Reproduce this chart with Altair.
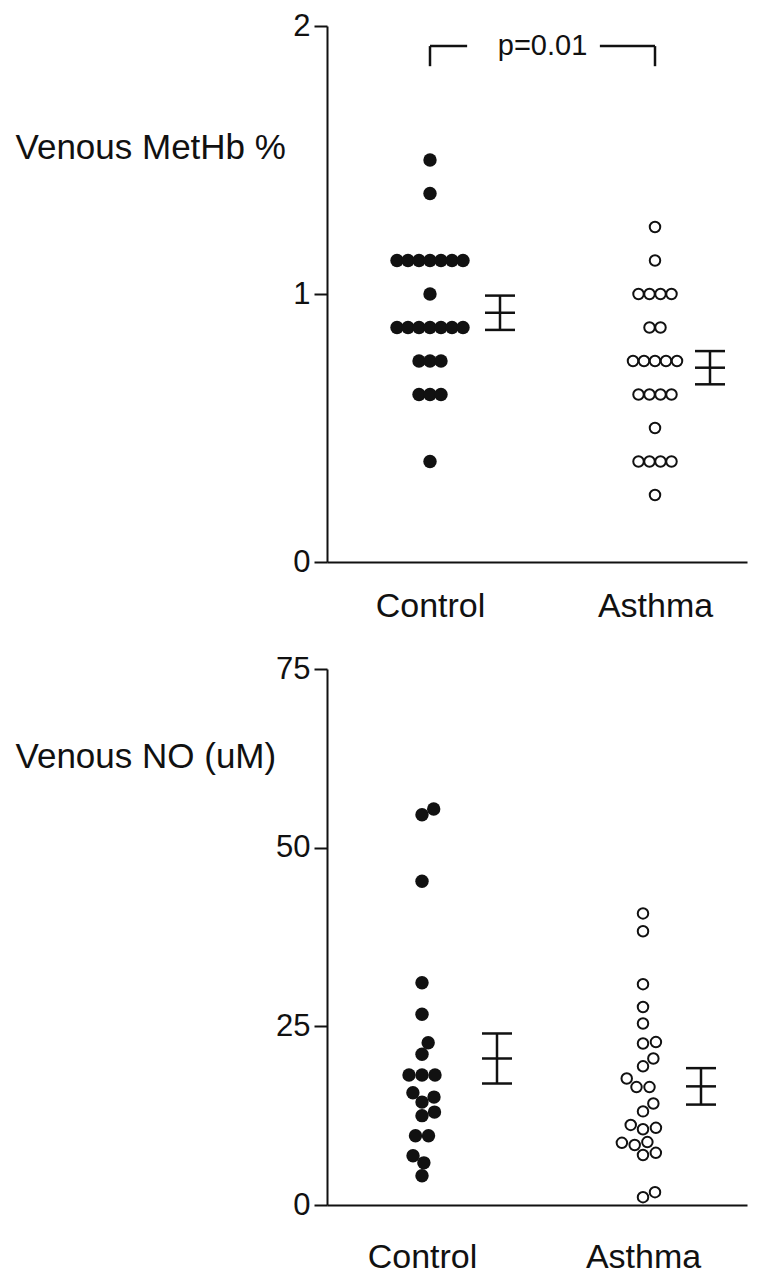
import altair as alt
import numpy as np
import pandas as pd

FONT = "Liberation Sans"
INK = "#111111"

groups = ["Control", "Asthma"]

# ---- Panel 1: Venous MetHb % ----
methb_control = [1.5, 1.375,
                 1.125, 1.125, 1.125, 1.125, 1.125, 1.125, 1.125,
                 1.0,
                 0.875, 0.875, 0.875, 0.875, 0.875, 0.875, 0.875,
                 0.75, 0.75, 0.75,
                 0.625, 0.625, 0.625,
                 0.375]
methb_asthma = [1.25, 1.125,
                1.0, 1.0, 1.0, 1.0,
                0.875, 0.875,
                0.75, 0.75, 0.75, 0.75, 0.75,
                0.625, 0.625, 0.625, 0.625,
                0.5,
                0.375, 0.375, 0.375, 0.375,
                0.25]
methb_mean = [0.93, 0.725]
methb_sem = [0.064, 0.062]
methb_ticks = [0, 1, 2]
p_label = "p=0.01"
bracket_level = [1.925, 1.85]      # top of bracket, bottom of its legs
bracket_inner = [1.165, 1.755]     # where the bracket lines stop around the label

# ---- Panel 2: Venous NO (uM) ----
no_control = [55.4, 54.6, 45.3, 31.1, 26.7, 22.7, 21.1,
              18.2, 18.2, 18.2, 15.7, 15.1, 14.4, 13.0, 12.5,
              9.7, 9.7, 6.9, 5.9, 4.1]
no_asthma = [40.8, 38.3, 30.9, 27.7, 25.4, 22.8, 22.6, 20.5, 19.4,
             17.7, 16.5, 16.5, 14.2, 13.1, 11.2, 10.8, 10.6,
             8.8, 8.7, 8.4, 7.3, 7.0, 1.8, 1.1]
no_mean = [20.5, 16.6]
no_sem = [3.5, 2.55]
no_ticks = [0, 25, 50, 75]


def swarm(vals, ppu_y, d):
    """Horizontal pixel offsets so dots do not stack (tied values form centered rows)."""
    vals = np.asarray(vals, float)
    off = np.zeros(len(vals))
    placed = []
    for v in sorted(set(vals.tolist())):
        idx = [i for i in range(len(vals)) if vals[i] == v]
        y = v * ppu_y
        k = len(idx)
        if k > 1:
            xs = [(j - (k - 1) / 2) * d for j in range(k)]
        else:
            cands = [0.0]
            for py, px in placed:
                dy = abs(py - y)
                if dy < d:
                    dx = float(np.sqrt(d * d - dy * dy))
                    cands += [px + dx, px - dx]
            cands.sort(key=abs)
            xs = [0.0]
            for c in cands:
                if all((c - px) ** 2 + (y - py) ** 2 >= d * d - 1e-6 for py, px in placed):
                    xs = [c]
                    break
        for i, x in zip(idx, xs):
            off[i] = x
            placed.append((y, x))
    return off


def panel(ctrl, asth, mean, sem, ticks, ytitle, height, c1, c2, d, title_y,
          bar_off, x_pad, bracket=None):
    W = 420
    ymax = ticks[-1]
    ppu_y = height / ymax
    ppu_x = c2 - c1
    xdom = [1 - c1 / ppu_x, 1 + (W - c1) / ppu_x]
    cap = 15

    pts = []
    segs = []
    for gi, vals in enumerate([ctrl, asth]):
        off = swarm(vals, ppu_y, d)
        for v, o in zip(vals, off):
            pts.append({"group": groups[gi], "value": v, "x": gi + 1 + o / ppu_x})
        bx = gi + 1 + bar_off[gi] / ppu_x
        lo, hi = mean[gi] - sem[gi], mean[gi] + sem[gi]
        segs.append({"x": bx, "x2": bx, "y": lo, "y2": hi})
        for lev in (lo, mean[gi], hi):
            segs.append({"x": bx - cap / ppu_x, "x2": bx + cap / ppu_x, "y": lev, "y2": lev})
    pts = pd.DataFrame(pts)

    texts = pd.DataFrame({"x": [], "y": [], "label": []})
    if bracket is not None:
        label, lev, inner = bracket
        top, leg = lev
        segs += [
            {"x": 1, "x2": 1, "y": leg, "y2": top},
            {"x": 1, "x2": inner[0], "y": top, "y2": top},
            {"x": inner[1], "x2": 2, "y": top, "y2": top},
            {"x": 2, "x2": 2, "y": leg, "y2": top},
        ]
        texts = pd.DataFrame({"x": [1.5], "y": [top], "label": [label]})
    segs = pd.DataFrame(segs)

    x_axis = alt.Axis(values=[1, 2],
                      labelExpr=f"datum.value == 1 ? '{groups[0]}' : '{groups[1]}'",
                      ticks=False, grid=False, domainColor=INK, domainWidth=2,
                      labelFontSize=34, labelPadding=x_pad, labelColor=INK,
                      labelFont=FONT)
    y_axis = alt.Axis(values=ticks, tickCount=len(ticks),
                      labelExpr="toString(datum.value)",
                      labelOverlap=False,
                      grid=False, tickSize=13, tickWidth=2,
                      tickColor=INK, domainColor=INK, domainWidth=2,
                      labelFontSize=31, labelPadding=4, labelColor=INK, labelFont=FONT,
                      titleAngle=0, titleAlign="left", titleBaseline="alphabetic",
                      titleX=-312, titleY=title_y, titleFontSize=35,
                      titleFontWeight="normal", titleColor=INK, titleFont=FONT)
    xs = alt.Scale(domain=xdom, nice=False, zero=False)
    ys = alt.Scale(domain=[0, ymax], nice=False)

    def X(f):
        return alt.X(f"{f}:Q", scale=xs, axis=x_axis, title=None)

    def Y(f):
        return alt.Y(f"{f}:Q", scale=ys, axis=y_axis, title=ytitle)

    rules = alt.Chart(segs).mark_rule(color=INK, strokeWidth=2.5).encode(
        x=X("x"), x2="x2:Q", y=Y("y"), y2="y2:Q")
    dots_c = alt.Chart(pts[pts.group == groups[0]]).mark_circle(
        size=180, color=INK, opacity=1).encode(x=X("x"), y=Y("value"))
    dots_a = alt.Chart(pts[pts.group == groups[1]]).mark_point(
        shape="circle", size=110, filled=True, fill="white", stroke=INK,
        strokeWidth=2, opacity=1).encode(x=X("x"), y=Y("value"))
    layers = [rules, dots_c, dots_a]
    if bracket is not None:
        layers.append(alt.Chart(texts).mark_text(
            fontSize=29, font=FONT, color=INK).encode(
            x=X("x"), y=Y("y"), text="label:N"))
    return alt.layer(*layers).properties(width=W, height=height)


top = panel(methb_control, methb_asthma, methb_mean, methb_sem, methb_ticks,
            "Venous MetHb %", 536, 103, 328, 11, 132, [70, 55], 27,
            bracket=(p_label, bracket_level, bracket_inner))
bottom = panel(no_control, no_asthma, no_mean, no_sem, no_ticks,
               "Venous NO (uM)", 536, 95, 316, 13, 98, [75, 58], 35)

chart = alt.vconcat(top, bottom, spacing=30).properties(
    padding={"left": 7, "top": 2, "right": 5, "bottom": 0},
    background="white",
).configure_view(stroke=None)

chart.save("out.html", embed_options={"renderer": "svg", "actions": False})
